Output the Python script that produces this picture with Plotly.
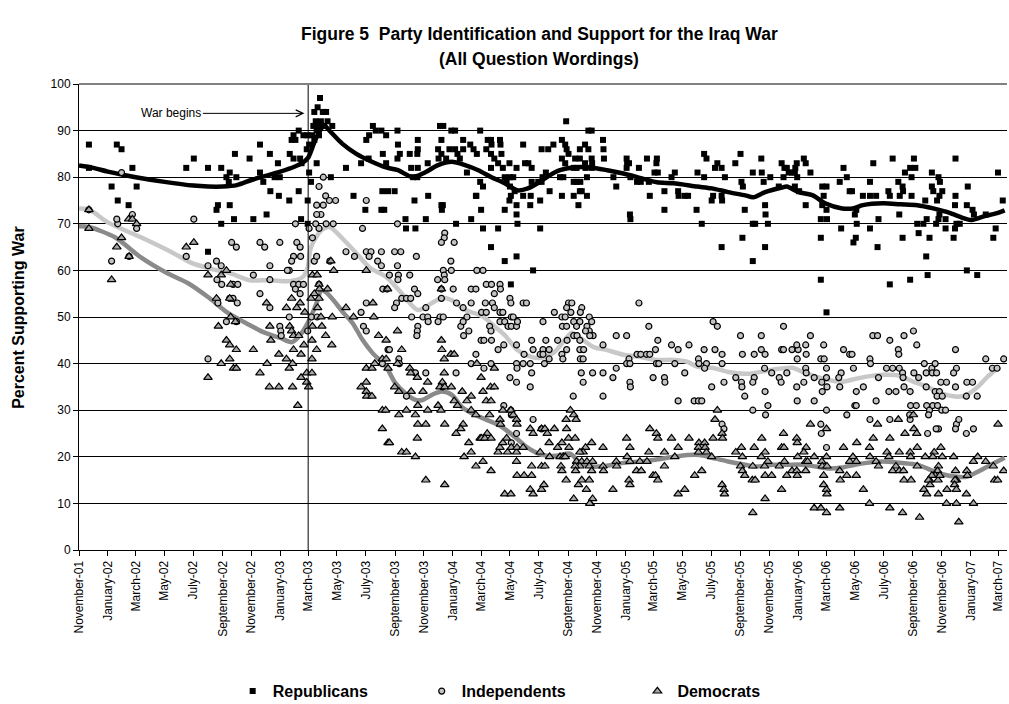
import plotly.graph_objects as go

# Poll readings: (field date, percent supporting the war)
republicans = [
    ("2001-11-22", 87), ("2001-11-22", 82), ("2002-01-20", 87), ("2002-01-30", 86), ("2002-01-09", 78),
    ("2002-01-22", 75), ("2002-02-14", 74), ("2002-02-22", 82), ("2002-03-03", 78), ("2002-06-16", 82),
    ("2002-07-02", 84), ("2002-08-01", 82), ("2002-08-29", 82), ("2002-09-16", 81), ("2002-09-27", 85),
    ("2002-09-09", 80), ("2002-09-14", 79), ("2002-08-22", 74), ("2002-08-19", 73), ("2002-09-16", 74),
    ("2002-08-29", 70), ("2002-08-01", 64), ("2002-09-25", 71),
    ("2003-03-26", 97), ("2003-03-21", 95), ("2003-04-01", 94), ("2003-04-08", 94), ("2003-03-14", 94),
    ("2003-03-17", 92), ("2003-03-28", 92), ("2003-03-12", 91), ("2003-03-24", 91), ("2003-04-11", 92),
    ("2003-04-21", 91), ("2003-04-04", 91), ("2003-03-19", 90), ("2003-03-09", 89), ("2003-03-24", 89),
    ("2003-03-14", 88), ("2003-03-03", 87), ("2003-02-26", 86),
    ("2003-01-29", 89), ("2003-02-09", 90), ("2003-02-19", 89), ("2003-02-27", 89), ("2003-01-25", 88),
    ("2003-02-02", 88), ("2002-11-19", 87), ("2002-12-10", 85), ("2002-10-28", 84), ("2002-12-27", 83),
    ("2003-01-21", 85), ("2003-01-29", 84), ("2003-02-12", 84), ("2003-02-15", 83),
    ("2002-11-19", 81), ("2002-11-26", 79), ("2002-12-20", 80), ("2002-09-30", 80), ("2002-12-31", 80),
    ("2002-12-11", 77), ("2002-12-29", 76), ("2003-01-20", 75), ("2003-02-09", 77), ("2003-02-28", 75),
    ("2003-03-03", 81), ("2003-03-07", 79), ("2003-03-19", 83), ("2002-11-05", 71), ("2002-12-03", 72),
    ("2003-02-14", 71), ("2003-02-28", 70),
    ("2003-04-18", 80), ("2003-05-20", 82), ("2003-06-05", 76), ("2003-06-30", 73), ("2003-08-03", 73),
    ("2003-08-09", 73), ("2003-08-05", 77), ("2003-06-21", 83), ("2003-07-02", 88), ("2003-07-08", 89),
    ("2003-07-16", 91), ("2003-07-22", 90), ("2003-08-03", 90), ("2003-08-13", 89), ("2003-08-06", 85),
    ("2003-08-13", 83), ("2003-07-07", 84),
    ("2003-09-06", 90), ("2003-09-07", 87), ("2003-10-19", 88), ("2003-10-19", 86), ("2003-09-11", 85),
    ("2003-10-02", 85), ("2003-10-18", 85), ("2003-09-06", 84), ("2003-10-05", 82), ("2003-10-19", 82),
    ("2003-10-09", 80), ("2003-10-18", 80), ("2003-11-09", 83),
    ("2003-12-05", 91), ("2003-12-12", 91), ("2003-12-29", 90), ("2004-01-06", 90), ("2003-12-08", 88),
    ("2004-01-23", 88), ("2004-02-28", 90), ("2003-12-01", 86), ("2003-12-08", 85), ("2003-12-25", 86),
    ("2004-01-06", 86), ("2004-01-11", 85), ("2004-01-23", 86), ("2004-02-07", 87), ("2004-02-14", 86),
    ("2004-02-21", 85), ("2004-01-16", 84), ("2003-12-18", 84), ("2003-12-02", 84),
    ("2004-03-15", 88), ("2004-03-22", 88), ("2004-04-10", 88), ("2004-04-11", 87), ("2004-03-12", 86),
    ("2004-03-22", 85), ("2004-03-29", 84), ("2004-04-13", 85), ("2004-03-23", 87), ("2004-04-06", 83),
    ("2004-04-16", 82), ("2004-04-30", 83), ("2004-05-29", 87), ("2004-06-02", 83), ("2004-06-09", 83),
    ("2004-07-07", 86), ("2004-06-16", 82), ("2004-03-22", 82), ("2004-05-15", 82),
    ("2004-02-28", 79), ("2004-03-05", 78), ("2004-02-19", 76), ("2004-01-31", 81),
    ("2004-04-20", 80), ("2004-04-24", 79), ("2004-05-01", 80), ("2004-05-08", 80), ("2004-05-01", 78),
    ("2004-05-11", 77), ("2004-05-03", 76), ("2004-04-30", 75), ("2004-05-29", 76), ("2004-06-14", 76),
    ("2004-06-16", 79), ("2004-06-30", 79), ("2004-07-04", 75), ("2004-06-13", 74), ("2004-05-15", 74),
    ("2004-05-15", 72), ("2004-05-17", 70), ("2004-04-20", 73), ("2004-03-05", 69), ("2004-04-06", 69),
    ("2004-07-04", 69), ("2004-03-22", 65), ("2004-04-20", 62), ("2004-05-15", 63), ("2004-06-19", 60),
    ("2004-05-03", 57),
    ("2003-08-31", 77), ("2003-08-17", 77), ("2003-10-12", 75), ("2003-11-10", 76), ("2003-12-08", 74),
    ("2003-12-11", 74), ("2003-12-09", 73), ("2003-11-05", 71), ("2003-09-23", 71), ("2003-09-24", 69),
    ("2003-10-14", 69), ("2004-01-08", 70), ("2004-02-09", 71), ("2004-02-20", 76), ("2004-03-01", 73),
    ("2004-08-28", 92), ("2004-10-14", 90), ("2004-10-21", 90), ("2004-08-19", 88), ("2004-08-26", 87),
    ("2004-08-29", 86), ("2004-08-01", 87), ("2004-07-21", 86), ("2004-10-07", 87), ("2004-10-14", 86),
    ("2004-09-26", 86), ("2004-11-14", 88), ("2004-11-15", 86), ("2004-11-16", 84),
    ("2004-09-02", 85), ("2004-08-19", 84), ("2004-08-26", 83), ("2004-09-16", 84), ("2004-09-26", 84),
    ("2004-10-07", 83), ("2004-10-21", 84), ("2004-10-22", 83), ("2004-09-19", 82), ("2004-10-08", 82),
    ("2004-10-21", 82), ("2004-09-13", 82),
    ("2004-07-16", 81), ("2004-07-09", 80), ("2004-07-07", 79), ("2004-08-15", 80), ("2004-08-22", 80),
    ("2004-09-13", 79), ("2004-09-19", 79), ("2004-09-27", 79), ("2004-10-11", 80), ("2004-07-24", 77),
    ("2004-08-19", 76), ("2004-09-13", 76), ("2004-09-26", 77), ("2004-09-30", 77), ("2004-10-11", 76),
    ("2004-09-23", 74),
    ("2005-01-03", 84), ("2005-01-04", 83), ("2005-01-08", 83), ("2005-02-15", 84), ("2005-03-08", 84),
    ("2005-03-07", 83), ("2005-01-29", 82), ("2004-12-06", 80), ("2004-12-12", 78), ("2005-01-03", 82),
    ("2005-01-11", 80), ("2005-01-25", 79), ("2005-02-02", 79), ("2005-02-19", 79), ("2005-03-03", 81),
    ("2005-03-10", 81), ("2005-02-21", 76), ("2005-03-24", 77), ("2005-04-15", 81), ("2005-04-08", 80),
    ("2005-04-22", 77), ("2005-04-23", 76), ("2005-05-06", 76), ("2005-05-13", 76), ("2005-03-24", 73),
    ("2005-01-10", 72), ("2005-01-11", 71),
    ("2005-06-16", 85), ("2005-06-21", 84), ("2005-06-02", 81), ("2005-06-16", 80), ("2005-07-09", 82),
    ("2005-07-14", 83), ("2005-07-23", 82), ("2005-07-30", 80), ("2005-09-01", 85), ("2005-08-21", 83),
    ("2005-10-15", 84), ("2005-09-27", 81), ("2005-10-16", 81), ("2005-09-03", 79), ("2005-09-06", 78),
    ("2005-10-20", 79), ("2005-11-03", 80),
    ("2005-11-27", 83), ("2005-12-03", 82), ("2005-12-08", 82), ("2005-12-01", 80), ("2005-12-12", 81),
    ("2005-12-29", 83), ("2005-12-26", 82), ("2006-01-13", 84), ("2006-01-17", 83), ("2005-12-25", 81),
    ("2005-12-19", 81), ("2005-12-30", 80), ("2006-01-27", 81), ("2005-11-21", 78), ("2005-12-25", 78),
    ("2006-01-03", 77),
    ("2005-07-05", 76), ("2005-07-02", 75), ("2005-07-23", 76), ("2005-07-24", 75), ("2005-05-31", 73),
    ("2005-09-10", 73), ("2005-10-23", 74), ("2005-10-24", 72), ("2006-01-17", 74), ("2006-02-21", 78),
    ("2006-03-02", 78), ("2006-02-24", 76), ("2006-02-21", 74), ("2006-03-02", 73), ("2006-03-03", 71),
    ("2006-02-18", 71), ("2005-06-11", 70), ("2005-09-27", 70), ("2005-10-02", 70), ("2005-10-29", 70),
    ("2005-09-05", 67), ("2005-07-23", 65), ("2005-10-23", 65), ("2005-09-27", 62), ("2006-02-18", 67),
    ("2006-02-18", 58), ("2006-03-02", 51), ("2006-04-02", 69), ("2006-04-28", 66), ("2006-03-30", 79),
    ("2006-04-14", 80), ("2006-04-20", 77), ("2006-04-07", 82),
    ("2006-06-09", 83), ("2006-07-20", 84), ("2006-09-03", 84), ("2006-11-30", 84), ("2007-02-28", 81),
    ("2006-08-15", 81), ("2006-08-26", 82), ("2006-09-06", 82), ("2006-10-11", 81), ("2006-06-02", 79),
    ("2006-08-01", 79), ("2006-08-10", 78), ("2006-08-11", 77), ("2006-08-04", 76), ("2006-08-29", 80),
    ("2006-10-25", 80), ("2006-10-28", 79), ("2006-10-11", 78), ("2006-10-14", 77), ("2006-11-02", 77),
    ("2006-10-27", 76), ("2006-10-22", 75), ("2006-04-25", 77), ("2006-05-18", 76), ("2006-06-02", 76),
    ("2006-06-15", 76), ("2006-07-11", 77), ("2006-07-14", 76), ("2006-08-29", 76), ("2006-09-27", 75),
    ("2006-12-26", 78), ("2006-11-30", 76), ("2007-03-10", 75), ("2006-11-29", 74), ("2006-12-24", 74),
    ("2007-01-05", 73), ("2007-01-08", 72), ("2006-05-04", 73), ("2006-05-01", 72), ("2006-05-05", 70),
    ("2006-06-02", 69), ("2006-06-20", 71), ("2006-08-03", 72), ("2006-09-10", 70), ("2006-09-23", 70),
    ("2006-09-30", 71), ("2006-10-20", 70), ("2006-10-25", 71), ("2006-10-27", 72), ("2006-11-09", 71),
    ("2006-11-09", 69), ("2006-12-02", 70), ("2006-11-29", 69), ("2006-12-09", 70), ("2007-02-02", 72),
    ("2007-02-23", 69), ("2007-02-18", 67), ("2006-05-03", 67), ("2006-06-18", 65), ("2006-08-10", 67),
    ("2006-09-13", 68), ("2006-10-06", 67), ("2006-11-26", 67), ("2006-09-29", 63), ("2006-07-14", 57),
    ("2006-08-26", 58), ("2006-10-02", 59), ("2006-12-24", 60), ("2007-01-15", 59),
]

independents = [
    ("2001-11-22", 73), ("2002-01-30", 81), ("2002-01-22", 70), ("2002-01-20", 71), ("2002-02-22", 72),
    ("2002-03-03", 69), ("2002-01-09", 62), ("2002-02-15", 63), ("2002-07-02", 71), ("2002-06-16", 63),
    ("2002-08-01", 61), ("2002-08-19", 62), ("2002-08-29", 61), ("2002-08-20", 58), ("2002-08-30", 57),
    ("2002-08-22", 53), ("2002-09-16", 54), ("2002-09-09", 49), ("2002-08-01", 41),
    ("2003-04-02", 80), ("2003-03-24", 78), ("2003-04-07", 76), ("2003-04-15", 75), ("2003-04-28", 75),
    ("2003-03-19", 74), ("2003-04-02", 74), ("2003-03-28", 72), ("2003-03-19", 72), ("2003-04-23", 70),
    ("2003-04-08", 70), ("2003-03-17", 70), ("2003-03-24", 69), ("2003-03-03", 69), ("2003-03-10", 67),
    ("2003-06-24", 69), ("2003-02-02", 70), ("2003-07-02", 75),
    ("2002-09-20", 66), ("2002-09-30", 65), ("2002-11-19", 66), ("2002-11-29", 65), ("2002-12-31", 66),
    ("2003-02-05", 66), ("2003-02-12", 65), ("2003-01-29", 63), ("2003-02-13", 63), ("2003-05-20", 64),
    ("2003-06-07", 63), ("2003-07-02", 64), ("2003-07-12", 64), ("2003-08-03", 64), ("2003-07-08", 63),
    ("2003-07-26", 62), ("2003-08-03", 61), ("2003-04-16", 62), ("2003-03-14", 62), ("2003-03-19", 63),
    ("2003-01-25", 62), ("2003-01-20", 60), ("2003-01-16", 60), ("2002-12-10", 61), ("2002-11-05", 59),
    ("2002-12-10", 58), ("2002-09-23", 57), ("2002-10-03", 57), ("2002-11-19", 55), ("2002-12-10", 52),
    ("2002-09-23", 54), ("2002-10-02", 53), ("2003-01-29", 57), ("2003-02-09", 57), ("2003-02-19", 57),
    ("2003-02-02", 56), ("2003-02-12", 55), ("2003-03-24", 57), ("2003-02-28", 47), ("2002-12-31", 48),
    ("2003-01-02", 47), ("2003-01-03", 46), ("2003-01-20", 50), ("2002-09-30", 49), ("2003-07-02", 53),
    ("2003-06-21", 51), ("2003-06-26", 48), ("2003-07-02", 47), ("2003-08-17", 43), ("2003-08-05", 40),
    ("2003-08-06", 56), ("2003-03-08", 50), ("2003-03-20", 50),
    ("2003-09-06", 70), ("2003-12-15", 68), ("2003-12-14", 67), ("2003-12-08", 66), ("2004-01-04", 66),
    ("2003-08-31", 64), ("2003-09-13", 64), ("2003-10-16", 63), ("2003-09-06", 61), ("2003-12-28", 62),
    ("2003-08-20", 59), ("2003-09-08", 59), ("2003-09-07", 58), ("2003-10-02", 59), ("2003-12-12", 60),
    ("2003-12-14", 59), ("2003-12-29", 60), ("2003-11-30", 58), ("2003-12-15", 58), ("2004-02-21", 60),
    ("2004-03-05", 60), ("2003-08-15", 56), ("2003-10-12", 56), ("2003-10-19", 55), ("2003-12-08", 56),
    ("2004-01-02", 56), ("2004-02-09", 56), ("2004-02-19", 56), ("2004-03-12", 57), ("2004-03-23", 57),
    ("2004-04-10", 57), ("2004-04-11", 56), ("2004-03-29", 55), ("2004-05-01", 54), ("2004-05-03", 53),
    ("2004-05-29", 53), ("2004-06-05", 53), ("2003-09-04", 53), ("2003-09-15", 54), ("2003-09-25", 54),
    ("2003-10-04", 54), ("2003-08-31", 52), ("2003-11-05", 52), ("2003-12-08", 54), ("2004-01-09", 53),
    ("2004-01-23", 52), ("2004-02-09", 53), ("2004-03-10", 53), ("2004-03-25", 53), ("2004-03-02", 51),
    ("2004-03-12", 51), ("2004-03-29", 52), ("2004-04-10", 51), ("2004-04-16", 51), ("2003-10-06", 50),
    ("2003-10-30", 50), ("2003-11-09", 50), ("2003-12-05", 50), ("2003-12-12", 50), ("2004-01-31", 50),
    ("2004-05-04", 50), ("2003-11-10", 49), ("2003-12-01", 49), ("2004-01-18", 48), ("2004-01-23", 49),
    ("2004-02-04", 47), ("2004-01-24", 46), ("2004-03-19", 48), ("2004-03-22", 47), ("2004-04-10", 49),
    ("2004-04-20", 49), ("2004-04-27", 48), ("2004-05-04", 48), ("2004-05-15", 48), ("2004-05-08", 50),
    ("2004-05-17", 49), ("2004-07-10", 49), ("2003-10-19", 48), ("2003-10-18", 47), ("2003-10-17", 46),
    ("2003-08-20", 43), ("2003-09-09", 41), ("2003-09-10", 40), ("2003-09-25", 33), ("2003-10-14", 38),
    ("2003-11-05", 38), ("2004-01-08", 38), ("2003-12-10", 35), ("2004-02-09", 40), ("2004-02-19", 42),
    ("2004-03-07", 39), ("2004-03-22", 40), ("2004-03-01", 45), ("2004-03-07", 45), ("2004-03-23", 45),
    ("2004-04-06", 43), ("2004-04-18", 44), ("2004-05-01", 37), ("2004-05-15", 44), ("2004-05-15", 40),
    ("2004-05-29", 40), ("2004-06-13", 40), ("2004-05-16", 39), ("2004-05-31", 42), ("2004-06-16", 45),
    ("2004-06-19", 43), ("2004-07-04", 42), ("2004-07-10", 43), ("2004-06-16", 38), ("2004-06-13", 35),
    ("2004-05-15", 36), ("2004-04-18", 31), ("2004-06-19", 28), ("2004-05-03", 30), ("2004-05-04", 29),
    ("2004-05-15", 25), ("2004-05-04", 23), ("2004-07-07", 26),
    ("2005-01-29", 53), ("2004-09-02", 53), ("2004-09-09", 53), ("2004-08-29", 52), ("2004-09-30", 52),
    ("2004-09-27", 51), ("2004-09-07", 51), ("2004-08-03", 51), ("2004-08-19", 50), ("2004-08-26", 50),
    ("2004-10-16", 50), ("2004-10-21", 49), ("2004-08-20", 48), ("2004-08-29", 48), ("2004-09-13", 49),
    ("2004-09-26", 49), ("2004-09-19", 48), ("2004-10-11", 48), ("2004-10-16", 47), ("2004-10-24", 46),
    ("2004-10-17", 46), ("2004-10-08", 47), ("2004-09-13", 46), ("2004-09-20", 46), ("2004-09-26", 45),
    ("2004-07-16", 45), ("2004-08-10", 45), ("2004-08-30", 45), ("2004-08-19", 42), ("2004-07-23", 43),
    ("2004-07-10", 42), ("2004-07-23", 41), ("2004-08-21", 41), ("2004-08-29", 43), ("2004-09-26", 43),
    ("2004-09-27", 41), ("2004-10-04", 43), ("2004-10-03", 41), ("2004-07-13", 40), ("2004-11-14", 44),
    ("2005-02-19", 48), ("2004-12-12", 46), ("2005-01-03", 46), ("2005-03-10", 45), ("2005-03-05", 43),
    ("2005-04-08", 44), ("2005-04-22", 43), ("2005-05-15", 44), ("2005-06-04", 41), ("2005-01-25", 42),
    ("2005-02-02", 42), ("2005-02-14", 42), ("2005-02-21", 42), ("2005-01-08", 41), ("2005-01-03", 40),
    ("2005-01-10", 40), ("2005-03-07", 40), ("2005-03-12", 40), ("2005-04-15", 40), ("2004-12-12", 39),
    ("2004-09-29", 38), ("2004-10-23", 38), ("2004-11-14", 38), ("2004-12-05", 37), ("2004-10-03", 36),
    ("2005-01-10", 36), ("2005-01-11", 35), ("2005-02-28", 37), ("2005-03-24", 37), ("2005-03-25", 36),
    ("2005-05-06", 38), ("2004-11-14", 33), ("2004-09-12", 33), ("2005-04-22", 32), ("2005-05-26", 32),
    ("2005-06-04", 32),
    ("2005-07-05", 49), ("2005-07-14", 48), ("2005-09-01", 46), ("2005-10-15", 46), ("2005-12-01", 48),
    ("2006-01-27", 46), ("2005-06-16", 43), ("2005-07-09", 43), ("2005-07-24", 42), ("2005-09-05", 42),
    ("2005-09-30", 42), ("2005-10-15", 43), ("2005-10-23", 42), ("2005-06-21", 40), ("2005-06-05", 40),
    ("2005-06-17", 39), ("2005-07-24", 40), ("2005-11-27", 43), ("2005-12-01", 43), ("2005-12-19", 43),
    ("2006-01-01", 43), ("2006-01-17", 44), ("2005-12-29", 44), ("2006-01-18", 42), ("2005-12-30", 41),
    ("2006-02-24", 44), ("2006-02-18", 41), ("2006-02-25", 41), ("2006-04-07", 43), ("2006-04-20", 42),
    ("2005-10-22", 39), ("2005-11-06", 38), ("2005-12-08", 38), ("2006-01-17", 39), ("2006-01-18", 38),
    ("2006-03-02", 39), ("2006-04-28", 39), ("2006-04-02", 38), ("2005-07-02", 35), ("2005-07-28", 36),
    ("2005-08-22", 37), ("2005-09-03", 36), ("2005-09-04", 35), ("2005-09-30", 37), ("2005-09-27", 36),
    ("2005-11-22", 37), ("2005-11-26", 36), ("2005-12-29", 35), ("2006-01-13", 36), ("2006-02-04", 37),
    ("2006-02-20", 36), ("2006-03-02", 37), ("2006-03-03", 35), ("2006-02-21", 34), ("2006-03-28", 37),
    ("2006-03-30", 35), ("2005-09-10", 33), ("2005-10-23", 34), ("2005-06-11", 32), ("2005-09-27", 30),
    ("2005-10-29", 31), ("2005-10-24", 29), ("2005-12-30", 32), ("2006-02-04", 32), ("2006-03-02", 30),
    ("2006-04-14", 29), ("2006-05-01", 31), ("2005-07-24", 27), ("2005-07-28", 26), ("2006-02-18", 27),
    ("2006-02-19", 25), ("2006-03-02", 22),
    ("2006-06-08", 46), ("2006-06-18", 46), ("2006-07-14", 45), ("2006-08-13", 46), ("2006-09-02", 47),
    ("2006-08-01", 43), ("2006-08-02", 42), ("2006-09-09", 44), ("2006-11-30", 43), ("2007-02-02", 41),
    ("2007-03-12", 41), ("2006-04-25", 42), ("2006-06-02", 41), ("2006-06-03", 40), ("2006-07-07", 39),
    ("2006-07-20", 39), ("2006-08-03", 39), ("2006-08-10", 38), ("2006-08-11", 37), ("2006-09-03", 38),
    ("2006-09-13", 37), ("2006-09-25", 40), ("2006-10-11", 39), ("2006-10-18", 40), ("2006-09-29", 38),
    ("2006-10-12", 38), ("2006-10-21", 38), ("2006-12-02", 39), ("2006-11-26", 38), ("2006-10-30", 36),
    ("2006-11-11", 36), ("2006-12-24", 36), ("2007-01-05", 36), ("2007-02-16", 39), ("2007-02-26", 39),
    ("2006-06-20", 37), ("2006-05-04", 34), ("2006-05-19", 35), ("2006-07-12", 34), ("2006-07-27", 34),
    ("2006-08-13", 35), ("2006-08-26", 34), ("2006-09-29", 35), ("2006-10-18", 34), ("2006-10-27", 34),
    ("2006-10-22", 33), ("2006-11-02", 33), ("2006-11-30", 35), ("2006-12-23", 33), ("2007-01-15", 33),
    ("2006-06-15", 32), ("2006-05-04", 31), ("2006-08-27", 31), ("2006-09-08", 31), ("2006-09-30", 31),
    ("2006-10-06", 30), ("2006-10-13", 31), ("2006-10-23", 31), ("2006-11-01", 30), ("2006-11-09", 30),
    ("2006-10-04", 29), ("2006-06-02", 28), ("2006-07-14", 28), ("2006-08-26", 28), ("2006-08-25", 29),
    ("2006-10-25", 26), ("2006-10-20", 26), ("2006-10-02", 25), ("2006-12-02", 27), ("2006-12-07", 28),
    ("2006-11-30", 26), ("2006-12-23", 25), ("2007-01-07", 26),
]

democrats = [
    ("2001-11-22", 73), ("2001-11-22", 69), ("2002-02-14", 71), ("2002-02-22", 71), ("2002-03-03", 70),
    ("2002-01-09", 58), ("2002-01-20", 65), ("2002-01-30", 67), ("2002-02-15", 63), ("2002-06-16", 65),
    ("2002-07-02", 66), ("2002-08-01", 59), ("2002-09-09", 60), ("2002-08-29", 59), ("2002-09-18", 57),
    ("2002-08-19", 54), ("2002-09-16", 54), ("2002-09-18", 50), ("2002-08-23", 48), ("2002-09-09", 45),
    ("2002-09-16", 44), ("2002-08-29", 40), ("2002-09-16", 41), ("2002-08-01", 37), ("2002-09-24", 39),
    ("2003-03-10", 59), ("2003-03-20", 59), ("2003-03-24", 57), ("2003-03-25", 56), ("2003-04-11", 56),
    ("2003-03-14", 55), ("2003-03-07", 54), ("2003-03-24", 54), ("2003-03-21", 52), ("2003-03-28", 50),
    ("2003-04-18", 62), ("2003-04-24", 60), ("2003-07-02", 60), ("2003-01-25", 54), ("2003-02-12", 53),
    ("2003-01-14", 52), ("2003-02-05", 52), ("2003-02-22", 51), ("2003-05-20", 52), ("2003-07-16", 53),
    ("2003-07-18", 50), ("2002-12-03", 53), ("2003-08-16", 56),
    ("2002-12-10", 48), ("2002-12-12", 45), ("2003-01-21", 48), ("2003-01-25", 47), ("2003-01-29", 46),
    ("2003-02-09", 46), ("2002-09-28", 49), ("2002-09-30", 43), ("2002-11-05", 43), ("2002-09-30", 39),
    ("2002-11-19", 38), ("2002-12-04", 40), ("2002-12-29", 42), ("2003-01-14", 41), ("2003-01-27", 40),
    ("2003-01-20", 39), ("2003-01-29", 43), ("2003-02-20", 44), ("2003-02-14", 42), ("2003-03-09", 45),
    ("2003-03-09", 41), ("2003-03-19", 43), ("2003-04-07", 46), ("2003-04-20", 44), ("2003-03-10", 48),
    ("2003-03-30", 48), ("2003-02-14", 37), ("2003-02-26", 38), ("2003-03-09", 38), ("2003-02-26", 36),
    ("2003-03-02", 35), ("2003-01-27", 35), ("2002-12-09", 35), ("2002-12-29", 35), ("2003-02-07", 31),
    ("2003-04-21", 50), ("2003-06-05", 50), ("2003-07-28", 46), ("2003-08-13", 45), ("2003-08-05", 41),
    ("2003-08-13", 41), ("2003-07-02", 39), ("2003-07-14", 39), ("2003-07-20", 40), ("2003-07-02", 36),
    ("2003-06-21", 35), ("2003-07-02", 34), ("2003-07-03", 33), ("2003-07-14", 33), ("2003-08-05", 30),
    ("2003-08-05", 26), ("2003-08-17", 23),
    ("2003-12-08", 56), ("2003-09-06", 47), ("2003-09-15", 43), ("2003-09-06", 40), ("2003-08-17", 39),
    ("2003-10-02", 39), ("2003-10-04", 38), ("2003-10-18", 37), ("2003-11-09", 36), ("2003-12-08", 45),
    ("2003-12-09", 43), ("2003-12-14", 41), ("2003-12-28", 42), ("2004-01-04", 42), ("2003-12-14", 38),
    ("2003-12-10", 36), ("2003-12-05", 35), ("2003-12-15", 35), ("2003-12-29", 35), ("2004-02-21", 40),
    ("2004-03-29", 39), ("2004-03-01", 37), ("2003-08-31", 35), ("2003-09-09", 34), ("2003-10-05", 34),
    ("2003-10-30", 34), ("2004-01-21", 34), ("2004-02-09", 33), ("2004-03-05", 34), ("2004-03-21", 35),
    ("2004-03-29", 35), ("2004-03-12", 32), ("2004-03-22", 32), ("2004-01-04", 32), ("2004-01-11", 31),
    ("2004-01-31", 32), ("2004-02-09", 30), ("2003-12-01", 31), ("2003-12-07", 30), ("2003-10-19", 31),
    ("2003-10-14", 29), ("2003-11-09", 30), ("2003-09-25", 30), ("2003-09-09", 29), ("2003-08-12", 30),
    ("2003-10-19", 27), ("2003-11-05", 27), ("2003-12-15", 27), ("2004-01-23", 27), ("2004-01-18", 26),
    ("2004-01-08", 25), ("2004-02-19", 29), ("2004-03-19", 29), ("2004-04-10", 28), ("2004-04-11", 27),
    ("2004-04-16", 30), ("2004-05-03", 30), ("2004-05-08", 29), ("2004-05-15", 28), ("2004-05-16", 27),
    ("2004-06-13", 26), ("2004-06-19", 25), ("2003-08-20", 23), ("2003-10-18", 24), ("2004-02-04", 23),
    ("2004-02-09", 21), ("2004-01-25", 20), ("2004-02-28", 24), ("2004-03-02", 24), ("2004-03-14", 25),
    ("2004-03-09", 24), ("2004-03-22", 24), ("2004-04-06", 21), ("2004-04-10", 22), ("2004-04-26", 21),
    ("2004-04-16", 23), ("2004-04-24", 24), ("2004-05-04", 22), ("2004-05-15", 21), ("2004-05-16", 22),
    ("2004-05-29", 22), ("2004-07-04", 21), ("2003-09-15", 21), ("2003-09-25", 21), ("2003-10-14", 20),
    ("2004-02-19", 18), ("2004-03-05", 19), ("2004-03-22", 17), ("2004-05-15", 19), ("2004-05-16", 16),
    ("2004-05-31", 16), ("2004-06-16", 16), ("2004-06-16", 18), ("2004-07-07", 18), ("2003-11-05", 15),
    ("2003-12-15", 14), ("2004-04-20", 12), ("2004-05-03", 12), ("2004-06-13", 13), ("2004-06-19", 12),
    ("2004-07-07", 13),
    ("2004-09-06", 30), ("2004-08-28", 28), ("2004-09-13", 29), ("2004-09-18", 28), ("2004-08-29", 26),
    ("2004-07-07", 26), ("2004-07-14", 26), ("2004-08-03", 26), ("2004-07-19", 25), ("2004-07-23", 23),
    ("2004-08-19", 23), ("2004-09-02", 24), ("2004-09-16", 24), ("2004-08-10", 22), ("2004-09-03", 22),
    ("2004-10-21", 23), ("2004-10-08", 22), ("2004-10-03", 21), ("2004-09-26", 21), ("2004-11-14", 22),
    ("2004-07-24", 20), ("2004-08-15", 20), ("2004-08-22", 20), ("2004-08-26", 20), ("2004-09-19", 19),
    ("2004-09-30", 19), ("2004-10-11", 19), ("2004-10-23", 19), ("2004-09-26", 18), ("2004-10-16", 18),
    ("2004-09-16", 18), ("2004-07-14", 18), ("2004-08-17", 18), ("2004-09-17", 17), ("2004-08-19", 17),
    ("2004-10-21", 17), ("2004-11-14", 18), ("2004-11-15", 17), ("2004-12-12", 19), ("2004-12-13", 18),
    ("2005-01-10", 19), ("2005-01-31", 19), ("2005-02-15", 19), ("2005-01-24", 17), ("2005-02-03", 17),
    ("2005-02-28", 16), ("2005-03-05", 16), ("2005-03-10", 15), ("2005-03-24", 18), ("2005-01-03", 24),
    ("2005-01-10", 22), ("2005-01-04", 20), ("2005-02-21", 26), ("2005-03-07", 25), ("2005-03-10", 24),
    ("2005-02-19", 21), ("2005-03-24", 21), ("2005-04-08", 24), ("2005-04-22", 22), ("2005-04-15", 20),
    ("2005-05-15", 24), ("2005-06-05", 23), ("2005-06-04", 22), ("2005-05-27", 16), ("2005-05-06", 13),
    ("2005-04-22", 12), ("2004-07-12", 14), ("2004-08-28", 15), ("2004-09-23", 14), ("2004-09-30", 15),
    ("2004-10-16", 15), ("2004-10-10", 13), ("2004-09-13", 11), ("2004-10-18", 10), ("2004-10-23", 11),
    ("2004-10-17", 10), ("2004-12-05", 13), ("2005-01-08", 15), ("2005-01-10", 14),
    ("2005-07-14", 30), ("2005-07-09", 28), ("2005-07-24", 25), ("2005-07-25", 24), ("2005-07-05", 24),
    ("2005-06-17", 23), ("2005-06-18", 22), ("2005-06-04", 21), ("2005-06-21", 21), ("2005-07-02", 20),
    ("2005-06-11", 17), ("2005-07-24", 14), ("2005-07-28", 13), ("2005-07-29", 12), ("2005-09-03", 22),
    ("2005-08-22", 21), ("2005-09-05", 20), ("2005-09-01", 18), ("2005-09-05", 17), ("2005-09-10", 16),
    ("2005-09-26", 15), ("2005-10-02", 15), ("2005-09-30", 22), ("2005-10-16", 24), ("2005-10-23", 21),
    ("2005-10-15", 20), ("2005-10-29", 19), ("2005-10-22", 18), ("2005-10-23", 16), ("2005-11-06", 16),
    ("2005-09-27", 18), ("2005-12-01", 25), ("2005-11-27", 22), ("2005-12-02", 22), ("2005-12-03", 19),
    ("2005-11-22", 18), ("2005-12-08", 16), ("2005-11-27", 13), ("2005-12-19", 17), ("2005-12-29", 17),
    ("2005-12-30", 16), ("2005-12-29", 24), ("2005-12-30", 23), ("2006-01-18", 22), ("2006-01-13", 21),
    ("2005-12-31", 20), ("2006-01-17", 19), ("2006-01-21", 19), ("2006-01-17", 17), ("2006-01-27", 27),
    ("2006-02-04", 20), ("2006-02-20", 19), ("2006-02-24", 16), ("2006-02-21", 18), ("2006-03-02", 26),
    ("2006-03-02", 20), ("2006-03-03", 18), ("2006-02-24", 14), ("2006-03-02", 13), ("2006-03-03", 12),
    ("2006-02-04", 9), ("2006-02-18", 9), ("2006-03-02", 8), ("2006-03-30", 9), ("2006-03-30", 17),
    ("2006-04-14", 16), ("2006-03-31", 15), ("2006-04-07", 22), ("2006-04-20", 19), ("2005-10-23", 11),
    ("2005-09-27", 8),
    ("2006-06-18", 27), ("2006-08-01", 28), ("2006-09-02", 29), ("2006-08-15", 25), ("2006-09-03", 26),
    ("2006-09-09", 25), ("2007-02-28", 27), ("2006-05-05", 23), ("2006-06-09", 24), ("2006-06-01", 22),
    ("2006-07-14", 24), ("2006-07-08", 21), ("2006-08-03", 21), ("2006-08-26", 21), ("2006-09-10", 22),
    ("2006-10-30", 22), ("2006-10-16", 21), ("2006-04-27", 20), ("2006-05-04", 19), ("2006-06-02", 20),
    ("2006-06-15", 19), ("2006-07-12", 20), ("2006-08-27", 20), ("2006-09-27", 20), ("2006-10-13", 20),
    ("2006-11-02", 20), ("2006-11-26", 20), ("2007-01-16", 20), ("2006-06-20", 18), ("2006-07-27", 18),
    ("2006-07-20", 17), ("2006-08-03", 17), ("2006-08-12", 17), ("2006-09-10", 18), ("2006-10-25", 18),
    ("2006-10-23", 17), ("2006-10-18", 16), ("2006-05-04", 16), ("2006-08-13", 15), ("2006-08-28", 15),
    ("2006-10-06", 15), ("2006-10-11", 16), ("2006-10-24", 15), ("2006-10-28", 16), ("2006-10-04", 15),
    ("2006-10-07", 14), ("2006-11-30", 17), ("2006-12-02", 15), ("2006-11-29", 15), ("2006-11-28", 14),
    ("2006-12-24", 17), ("2006-12-25", 16), ("2007-01-07", 19), ("2007-02-02", 19), ("2007-02-18", 18),
    ("2007-03-12", 17), ("2007-02-21", 15), ("2007-02-27", 15), ("2006-05-19", 13), ("2006-09-24", 13),
    ("2006-09-30", 12), ("2006-10-25", 12), ("2006-11-12", 13), ("2006-12-02", 13), ("2006-12-23", 12),
    ("2006-06-01", 10), ("2006-07-14", 9), ("2006-08-10", 8), ("2006-09-15", 7), ("2006-11-11", 10),
    ("2006-12-02", 10), ("2007-01-07", 10), ("2006-12-07", 6),
]

# Smoothed trend for each group
rep_trend = [
    ("2001-11-01", 82.5), ("2001-12-01", 82.0), ("2002-01-01", 81.2), ("2002-03-01", 80.0),
    ("2002-05-01", 79.0), ("2002-07-01", 78.2), ("2002-08-01", 78.0), ("2002-09-01", 78.0),
    ("2002-10-01", 78.3), ("2002-11-01", 79.4), ("2002-12-01", 80.3), ("2003-01-01", 81.2),
    ("2003-02-01", 82.3), ("2003-02-16", 83.0), ("2003-03-01", 84.2), ("2003-03-14", 87.5),
    ("2003-03-24", 89.6), ("2003-04-04", 91.1), ("2003-04-15", 90.0), ("2003-05-12", 87.2),
    ("2003-06-11", 85.0), ("2003-07-08", 83.6), ("2003-08-13", 82.1), ("2003-09-07", 81.5),
    ("2003-10-08", 80.0), ("2003-11-03", 81.0), ("2003-12-01", 82.6), ("2003-12-30", 83.3),
    ("2004-01-27", 82.6), ("2004-02-24", 81.5), ("2004-03-23", 80.0), ("2004-04-20", 78.7),
    ("2004-05-16", 77.2), ("2004-06-08", 77.6), ("2004-07-08", 79.3), ("2004-07-24", 80.4),
    ("2004-08-15", 81.5), ("2004-09-12", 82.1), ("2004-10-17", 82.1), ("2004-11-23", 81.5),
    ("2004-12-27", 80.8), ("2005-02-02", 79.8), ("2005-03-08", 78.9), ("2005-04-12", 78.7),
    ("2005-06-01", 78.0), ("2005-07-02", 77.6), ("2005-08-06", 76.8), ("2005-09-11", 76.1),
    ("2005-09-28", 75.7), ("2005-10-23", 76.8), ("2005-11-28", 77.8), ("2005-12-08", 78.0),
    ("2006-01-02", 76.8), ("2006-02-01", 76.1), ("2006-02-27", 74.4), ("2006-04-04", 73.3),
    ("2006-04-27", 73.3), ("2006-05-18", 74.0), ("2006-06-30", 74.4), ("2006-08-05", 74.2),
    ("2006-09-10", 74.0), ("2006-10-14", 73.3), ("2006-11-19", 72.3), ("2006-12-17", 71.2),
    ("2007-01-01", 70.8), ("2007-01-29", 71.6), ("2007-02-26", 72.3), ("2007-03-14", 72.9),
]

ind_trend = [
    ("2001-11-01", 73.3), ("2001-11-22", 73.1), ("2002-01-01", 70.3), ("2002-03-12", 67.1),
    ("2002-05-20", 63.7), ("2002-06-27", 61.6), ("2002-08-01", 60.5), ("2002-09-16", 59.4),
    ("2002-10-28", 57.9), ("2002-12-10", 57.9), ("2003-01-21", 57.7), ("2003-02-18", 58.6),
    ("2003-02-28", 60.7), ("2003-03-07", 65.0), ("2003-03-29", 68.6), ("2003-04-15", 69.3),
    ("2003-05-12", 66.9), ("2003-06-11", 63.7), ("2003-07-08", 60.7), ("2003-08-13", 58.6),
    ("2003-09-15", 55.1), ("2003-10-19", 51.5), ("2003-11-18", 53.0), ("2003-12-09", 54.1),
    ("2003-12-30", 53.6), ("2004-01-27", 51.5), ("2004-02-17", 50.8), ("2004-03-09", 49.8),
    ("2004-03-30", 47.9), ("2004-04-20", 46.1), ("2004-05-17", 42.9), ("2004-06-17", 41.4),
    ("2004-07-04", 41.2), ("2004-08-01", 42.3), ("2004-08-30", 45.7), ("2004-09-09", 46.6),
    ("2004-09-27", 45.5), ("2004-10-24", 43.6), ("2004-11-23", 42.9), ("2004-12-27", 41.9),
    ("2005-02-02", 41.4), ("2005-03-08", 40.8), ("2005-04-12", 40.8), ("2005-05-11", 40.4),
    ("2005-06-03", 39.3), ("2005-07-03", 39.1), ("2005-08-06", 38.2), ("2005-09-11", 37.8),
    ("2005-10-02", 38.0), ("2005-11-08", 38.7), ("2005-12-19", 39.1), ("2006-01-11", 38.2),
    ("2006-02-08", 37.2), ("2006-03-05", 36.5), ("2006-04-04", 36.1), ("2006-05-01", 36.7),
    ("2006-05-26", 37.2), ("2006-06-30", 37.6), ("2006-08-05", 37.4), ("2006-09-02", 36.1),
    ("2006-10-02", 35.0), ("2006-10-28", 33.7), ("2006-12-04", 32.9), ("2006-12-24", 33.3),
    ("2007-01-16", 35.0), ("2007-02-06", 37.2), ("2007-02-23", 38.7),
]

dem_trend = [
    ("2001-11-01", 69.5), ("2001-11-22", 69.3), ("2002-01-16", 67.1), ("2002-03-12", 62.8),
    ("2002-05-07", 59.4), ("2002-06-19", 57.3), ("2002-08-01", 54.3), ("2002-09-12", 50.9),
    ("2002-10-28", 48.3), ("2002-11-25", 46.8), ("2003-01-01", 45.5), ("2003-01-26", 44.6),
    ("2003-02-12", 46.1), ("2003-02-28", 48.7), ("2003-03-10", 50.8), ("2003-03-21", 53.6),
    ("2003-03-29", 55.8), ("2003-04-08", 55.3), ("2003-04-30", 52.8), ("2003-05-12", 51.2),
    ("2003-06-03", 48.7), ("2003-06-24", 45.1), ("2003-07-15", 42.3), ("2003-08-13", 39.3),
    ("2003-09-01", 35.9), ("2003-09-22", 33.7), ("2003-10-14", 32.2), ("2003-10-29", 32.2),
    ("2003-11-18", 33.3), ("2003-12-09", 34.0), ("2003-12-30", 33.3), ("2004-01-20", 30.7),
    ("2004-02-17", 29.0), ("2004-03-23", 27.5), ("2004-04-14", 26.4), ("2004-05-11", 24.3),
    ("2004-06-08", 21.9), ("2004-07-08", 20.4), ("2004-08-08", 20.2), ("2004-09-05", 20.7),
    ("2004-09-27", 18.7), ("2004-10-24", 17.9), ("2004-11-23", 18.1), ("2004-12-27", 18.7),
    ("2005-02-02", 19.0), ("2005-03-08", 19.4), ("2005-04-12", 20.0), ("2005-05-11", 20.4),
    ("2005-06-07", 20.4), ("2005-07-03", 19.8), ("2005-08-06", 19.0), ("2005-09-11", 18.3),
    ("2005-10-02", 17.9), ("2005-11-08", 18.3), ("2005-12-11", 18.3), ("2006-01-11", 18.3),
    ("2006-02-08", 17.9), ("2006-03-05", 17.5), ("2006-04-04", 17.7), ("2006-05-01", 18.3),
    ("2006-05-26", 18.7), ("2006-06-30", 19.0), ("2006-08-05", 18.7), ("2006-09-10", 18.3),
    ("2006-10-08", 17.2), ("2006-11-05", 16.2), ("2006-12-04", 15.7), ("2006-12-24", 15.7),
    ("2007-01-16", 16.8), ("2007-02-13", 18.3), ("2007-03-14", 19.8),
]

tick_dates = [
    "2001-11-01", "2002-01-01", "2002-03-01", "2002-05-01", "2002-07-01", "2002-09-01", "2002-11-01",
    "2003-01-01", "2003-03-01", "2003-05-01", "2003-07-01", "2003-09-01", "2003-11-01",
    "2004-01-01", "2004-03-01", "2004-05-01", "2004-07-01", "2004-09-01", "2004-11-01",
    "2005-01-01", "2005-03-01", "2005-05-01", "2005-07-01", "2005-09-01", "2005-11-01",
    "2006-01-01", "2006-03-01", "2006-05-01", "2006-07-01", "2006-09-01", "2006-11-01",
    "2007-01-01", "2007-03-01",
]
tick_labels = [
    "November-01", "January-02", "March-02", "May-02", "July-02", "September-02", "November-02",
    "January-03", "March-03", "May-03", "July-03", "September-03", "November-03",
    "January-04", "March-04", "May-04", "July-04", "September-04", "November-04",
    "January-05", "March-05", "May-05", "July-05", "September-05", "November-05",
    "January-06", "March-06", "May-06", "July-06", "September-06", "November-06",
    "January-07", "March-07",
]
war_start = "2003-03-01"

FONT = "Liberation Sans, Arial, sans-serif"
NBSP = "\u00a0"


def xs(rows):
    return [r[0] for r in rows]


def ys(rows):
    return [r[1] for r in rows]


fig = go.Figure()

# Trend lines sit beneath the markers
for rows, colour in ((rep_trend, "#000000"), (ind_trend, "#C8C8C8"), (dem_trend, "#8A8A8A")):
    fig.add_trace(go.Scatter(
        x=xs(rows), y=ys(rows), mode="lines", showlegend=False, hoverinfo="skip",
        line=dict(color=colour, width=4.5, shape="spline", smoothing=0.8),
    ))

# Legend names carry trailing spacing so the three entries spread across the footer
fig.add_trace(go.Scatter(
    x=xs(republicans), y=ys(republicans), mode="markers", name="Republicans" + NBSP * 11,
    marker=dict(symbol="square", size=6, color="#000000", line=dict(width=0)),
))
fig.add_trace(go.Scatter(
    x=xs(independents), y=ys(independents), mode="markers", name="Independents" + NBSP * 15,
    marker=dict(symbol="circle", size=6, color="#C4C4C4", line=dict(width=1.2, color="#000000")),
))
fig.add_trace(go.Scatter(
    x=xs(democrats), y=ys(democrats), mode="markers", name="Democrats",
    marker=dict(symbol="triangle-up", size=7.5, color="#A8A8A8", line=dict(width=1.2, color="#000000")),
))

fig.update_layout(
    width=1009, height=704,
    margin=dict(l=79, r=2, t=84, b=154, autoexpand=False),
    paper_bgcolor="#FFFFFF", plot_bgcolor="#FFFFFF",
    font=dict(family=FONT, color="#000000", size=12),
    showlegend=True,
    legend=dict(
        orientation="h", x=0.1656, xanchor="left", y=-0.303, yanchor="middle",
        font=dict(family=FONT, size=16, weight="bold"),
        itemsizing="trace", traceorder="normal",
    ),
    xaxis=dict(
        type="date", range=["2001-11-01", "2007-03-19"],
        tickmode="array", tickvals=tick_dates, ticktext=tick_labels, tickangle=-90,
        tickfont=dict(family=FONT, size=12), ticks="outside", ticklen=5, tickcolor="#000000",
        showgrid=False, showline=True, linecolor="#000000", linewidth=1, zeroline=False,
        automargin=False,
    ),
    yaxis=dict(
        range=[0, 100], tickmode="linear", tick0=0, dtick=10,
        tickfont=dict(family=FONT, size=12), ticks="outside", ticklen=5, tickcolor="#000000",
        showgrid=True, gridcolor="#000000", gridwidth=1,
        showline=True, linecolor="#000000", linewidth=1, zeroline=False,
        automargin=False,
    ),
    shapes=[
        dict(type="line", xref="x", yref="paper", x0=war_start, x1=war_start, y0=0, y1=1,
             line=dict(color="#000000", width=1)),
        dict(type="line", xref="paper", yref="paper", x0=0, x1=1, y0=1, y1=1,
             line=dict(color="#808080", width=2)),
    ],
    annotations=[
        dict(text="<b>Figure 5\u00a0 Party Identification and Support for the Iraq War</b>",
             xref="paper", yref="paper", x=0.496, y=1.108, xanchor="center", yanchor="middle",
             showarrow=False, font=dict(family=FONT, size=17.5)),
        dict(text="<b>(All Question Wordings)</b>",
             xref="paper", yref="paper", x=0.496, y=1.0546, xanchor="center", yanchor="middle",
             showarrow=False, font=dict(family=FONT, size=17.5)),
        dict(text="<b>Percent Supporting War</b>", textangle=-90,
             xref="paper", yref="paper", x=-0.0659, y=0.5, xanchor="center", yanchor="middle",
             showarrow=False, font=dict(family=FONT, size=16)),
        dict(text="War begins", x="2003-02-21", y=93.7, xref="x", yref="y",
             showarrow=True, ax=-133, ay=0, arrowhead=5, arrowsize=1.4, arrowwidth=1,
             arrowcolor="#000000", font=dict(family=FONT, size=12)),
    ],
)

fig.write_html("out.html")
